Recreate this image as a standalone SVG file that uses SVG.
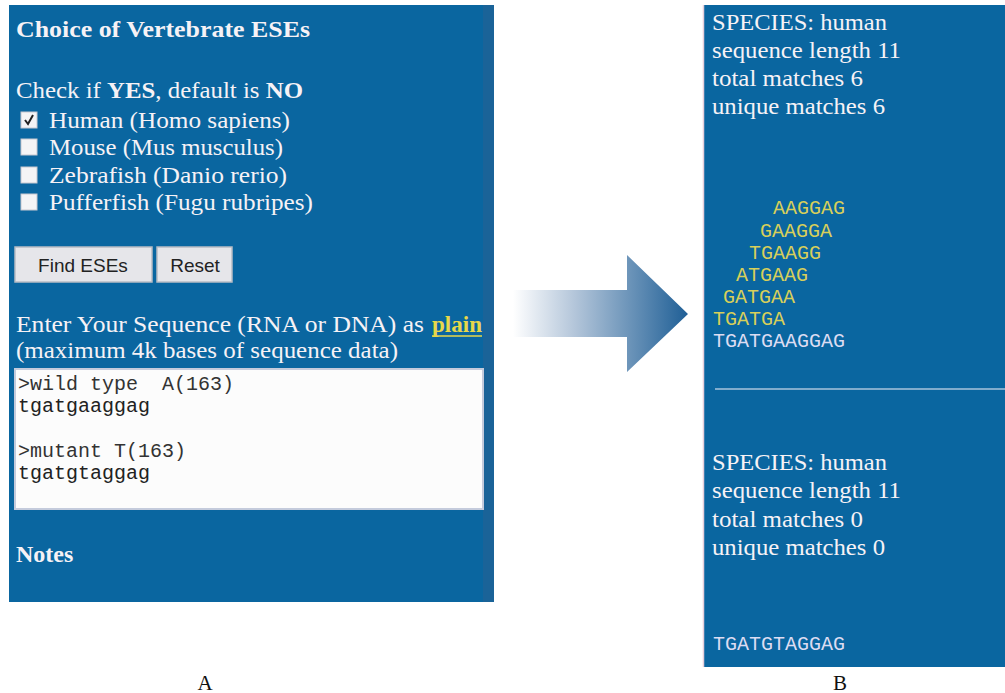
<svg xmlns="http://www.w3.org/2000/svg" width="1005" height="693" viewBox="0 0 1005 693">
<defs>
<linearGradient id="arrowGrad" x1="513" y1="0" x2="688" y2="0" gradientUnits="userSpaceOnUse">
<stop offset="0" stop-color="#ffffff"/>
<stop offset="0.35" stop-color="#b4c6da"/>
<stop offset="1" stop-color="#1f5f96"/>
</linearGradient>
<style>
.panel{fill:#0a66a0}
.t{font-family:"Liberation Serif","Times New Roman",serif;fill:#f6f2f6;font-size:24px}
.b{font-weight:bold}
.mono{font-family:"Liberation Mono","Courier New",monospace;font-size:20px;white-space:pre}
.seq{font-family:"Liberation Mono","Courier New",monospace;font-size:20px;fill:#d8cf5a}
.seqw{font-family:"Liberation Mono","Courier New",monospace;font-size:20px;fill:#dcdcf2}
.cb{fill:#f4f4f6;stroke:#c8c8d0;stroke-width:1}
.btn{fill:#e6e6ea;stroke:#b8bcc4;stroke-width:1.5}
.btnt{font-family:"Liberation Sans",Arial,sans-serif;font-size:19px;fill:#222;text-anchor:middle}
.lbl{font-family:"Liberation Serif","Times New Roman",serif;font-size:21px;fill:#111;text-anchor:middle}
</style>
</defs>
<rect width="1005" height="693" fill="#ffffff"/>

<g id="panelA">
<rect class="panel" x="9" y="5" width="485" height="597"/>
<rect x="483" y="5" width="11" height="597" fill="#1a6398"/>
<text class="t b" x="16" y="37" textLength="294" lengthAdjust="spacingAndGlyphs">Choice of Vertebrate ESEs</text>
<text class="t" x="16" y="98" textLength="287" lengthAdjust="spacingAndGlyphs">Check if <tspan class="b">YES</tspan>, default is <tspan class="b">NO</tspan></text>
<g id="cbHuman">
<rect class="cb" x="21" y="112" width="16" height="16"/>
<path d="M25 120 L28 124 L33 115" fill="none" stroke="#222" stroke-width="2"/>
<text class="t" x="49" y="128" textLength="241" lengthAdjust="spacingAndGlyphs">Human (Homo sapiens)</text>
</g>
<g id="cbMouse">
<rect class="cb" x="21" y="139" width="16" height="16"/>
<text class="t" x="49" y="155" textLength="234" lengthAdjust="spacingAndGlyphs">Mouse (Mus musculus)</text>
</g>
<g id="cbZebrafish">
<rect class="cb" x="21" y="167" width="16" height="16"/>
<text class="t" x="49" y="183" textLength="238" lengthAdjust="spacingAndGlyphs">Zebrafish (Danio rerio)</text>
</g>
<g id="cbPufferfish">
<rect class="cb" x="21" y="194" width="16" height="16"/>
<text class="t" x="49" y="210" textLength="264" lengthAdjust="spacingAndGlyphs">Pufferfish (Fugu rubripes)</text>
</g>
<g id="btnFind">
<rect class="btn" x="15" y="247" width="137" height="35"/>
<text class="btnt" x="83" y="272">Find ESEs</text>
</g>
<g id="btnReset">
<rect class="btn" x="157" y="247" width="75" height="35"/>
<text class="btnt" x="195" y="272">Reset</text>
</g>
<text class="t" x="16" y="332" textLength="408" lengthAdjust="spacingAndGlyphs">Enter Your Sequence (RNA or DNA) as</text>
<text class="t b" x="432" y="332" style="fill:#e8d84a" textLength="50" lengthAdjust="spacingAndGlyphs">plain</text>
<line x1="432" y1="336" x2="482" y2="336" stroke="#e8d84a" stroke-width="1.5"/>
<text class="t" x="16" y="358" textLength="382" lengthAdjust="spacingAndGlyphs">(maximum 4k bases of sequence data)</text>
<g id="textarea">
<rect x="15" y="369" width="468" height="140" fill="#fcfcfc" stroke="#c4cbdc" stroke-width="2"/>
<text class="mono" x="18" y="390" fill="#333" xml:space="preserve">&gt;wild type  A(163)</text>
<text class="mono" x="18" y="412" fill="#222">tgatgaaggag</text>
<text class="mono" x="18" y="457" fill="#333">&gt;mutant T(163)</text>
<text class="mono" x="18" y="479" fill="#222">tgatgtaggag</text>
</g>
<text class="t b" x="16" y="562">Notes</text>
</g>

<g id="connectors">
<path d="M513 290 L627 290 L627 255 L688 314 L627 372 L627 337 L513 337 Z" fill="url(#arrowGrad)"/>
</g>

<g id="panelB">
<rect class="panel" x="703" y="5" width="302" height="662"/>
<line x1="703.5" y1="5" x2="703.5" y2="667" stroke="#e6cfdc" stroke-width="1.5"/>
<text class="t" x="712" y="30" textLength="175" lengthAdjust="spacingAndGlyphs">SPECIES: human</text>
<text class="t" x="712" y="58" textLength="189" lengthAdjust="spacingAndGlyphs">sequence length 11</text>
<text class="t" x="712" y="86" textLength="151" lengthAdjust="spacingAndGlyphs">total matches 6</text>
<text class="t" x="712" y="114" textLength="173" lengthAdjust="spacingAndGlyphs">unique matches 6</text>
<text class="seq" x="773" y="214">AAGGAG</text>
<text class="seq" x="760" y="237">GAAGGA</text>
<text class="seq" x="749" y="259">TGAAGG</text>
<text class="seq" x="736" y="281">ATGAAG</text>
<text class="seq" x="723" y="303">GATGAA</text>
<text class="seq" x="713" y="325">TGATGA</text>
<text class="seqw" x="713" y="347">TGATGAAGGAG</text>
<line x1="715" y1="389" x2="1005" y2="389" stroke="#a9c4dc" stroke-width="1.5"/>
<text class="t" x="712" y="470" textLength="175" lengthAdjust="spacingAndGlyphs">SPECIES: human</text>
<text class="t" x="712" y="498" textLength="189" lengthAdjust="spacingAndGlyphs">sequence length 11</text>
<text class="t" x="712" y="527" textLength="151" lengthAdjust="spacingAndGlyphs">total matches 0</text>
<text class="t" x="712" y="555" textLength="173" lengthAdjust="spacingAndGlyphs">unique matches 0</text>
<text class="seqw" x="713" y="650">TGATGTAGGAG</text>
</g>

<text class="lbl" x="205" y="690">A</text>
<text class="lbl" x="840" y="690">B</text>
</svg>
